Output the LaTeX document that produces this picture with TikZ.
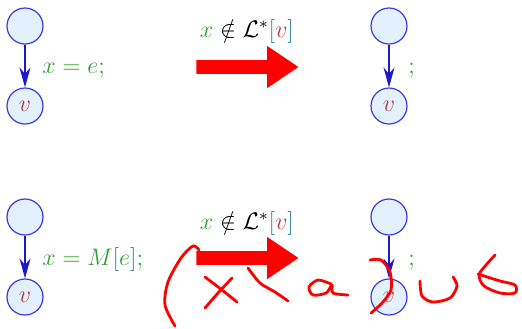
\documentclass[tikz,border=0pt]{standalone}
\usetikzlibrary{arrows.meta,shapes.arrows}
\definecolor{nodefill}{HTML}{E3F1FF}
\definecolor{nodeline}{HTML}{3A3AE6}
\definecolor{edgeblue}{HTML}{1A1ACC}
\definecolor{varg}{HTML}{2E9E2E}
\definecolor{varv}{HTML}{B83A3A}
\definecolor{brk}{HTML}{2A80A0}
\definecolor{ink}{HTML}{FF0000}
\newcommand{\pv}{{\color{varv}v}}
\newcommand{\lb}{{\color{brk}[}}
\newcommand{\rb}{{\color{brk}]}}
\tikzset{
  every node/.style={font=\large},
  cfg/.style={circle, draw=nodeline, fill=nodefill, line width=0.6pt, minimum size=18pt, inner sep=0pt},
  edge/.style={draw=edgeblue, line width=0.7pt, -{Stealth[length=10pt, width=5.5pt]}},
  stmt/.style={anchor=base west, inner sep=0pt, text=varg},
  cond/.style={anchor=base, inner sep=0pt},
  rule/.style={single arrow, fill=ink, draw=none, anchor=tail, minimum height=51pt,
               minimum width=17.5pt, single arrow tip angle=68, inner sep=3.25pt},
  hand/.style={draw=ink, line width=1.4pt, line cap=round, line join=round},
}

\begin{document}
\begin{tikzpicture}[x=0.5pt, y=-0.5pt]
  \useasboundingbox (0,0) rectangle (522,328);

  % first rule
  \node[cfg] (a1) at (25,26) {};
  \node[cfg] (a2) at (25,106) {$\pv$};
  \node[stmt] (sa) at (42,73) {$x = e;$};
  \node[cond] (ca) at (247,37) {${\color{varg}x} \notin \mathcal{L}^*\lb\pv\rb$};
  \node[rule] (ra) at (196,67) {};
  \node[cfg] (a3) at (389,26) {};
  \node[cfg] (a4) at (389,106) {$\pv$};
  \node[stmt] (ta) at (408,73) {$;$};

  % second rule
  \node[cfg] (b1) at (25,217) {};
  \node[cfg] (b2) at (25,297) {$\pv$};
  \node[stmt] (sb) at (42,265) {$x = M\lb e\rb;$};
  \node[cond] (cb) at (247,229) {${\color{varg}x} \notin \mathcal{L}^*\lb\pv\rb$};
  \node[rule] (rb) at (196,258) {};
  \node[cfg] (b3) at (389,217) {};
  \node[cfg] (b4) at (389,297) {$\pv$};
  \node[stmt] (tb) at (408,265) {$;$};

  \foreach \u/\w in {a1/a2,a3/a4,b1/b2,b3/b4} { \draw[edge] (\u) -- (\w); }

  % handwritten note
  \draw[hand] plot[smooth] coordinates {(199,250) (193,246) (181,258) (168,282) (165,305) (175,326)};
  \draw[hand] plot[smooth] coordinates {(205,277) (222,290) (237,302)};
  \draw[hand] plot[smooth] coordinates {(232,278) (218,293) (205,308)};
  \draw[hand] plot[smooth] coordinates {(248,268) (260,283) (275,292) (288,301)};
  \draw[hand] plot[smooth] coordinates {(331,284) (318,280) (309,287) (313,295) (326,293) (332,285) (333,293) (348,295)};
  \draw[hand] plot[smooth] coordinates {(370,260) (381,260) (390,272) (391,290) (382,303) (371,313)};
  \draw[hand] plot[smooth] coordinates {(420,281) (422,296) (433,302) (450,298) (457,286) (453,277)};
  \draw[hand] plot[smooth] coordinates {(495,255) (486,265) (479,275) (484,286) (500,293) (515,293) (515,285) (500,281) (478,274)};
\end{tikzpicture}
\end{document}
